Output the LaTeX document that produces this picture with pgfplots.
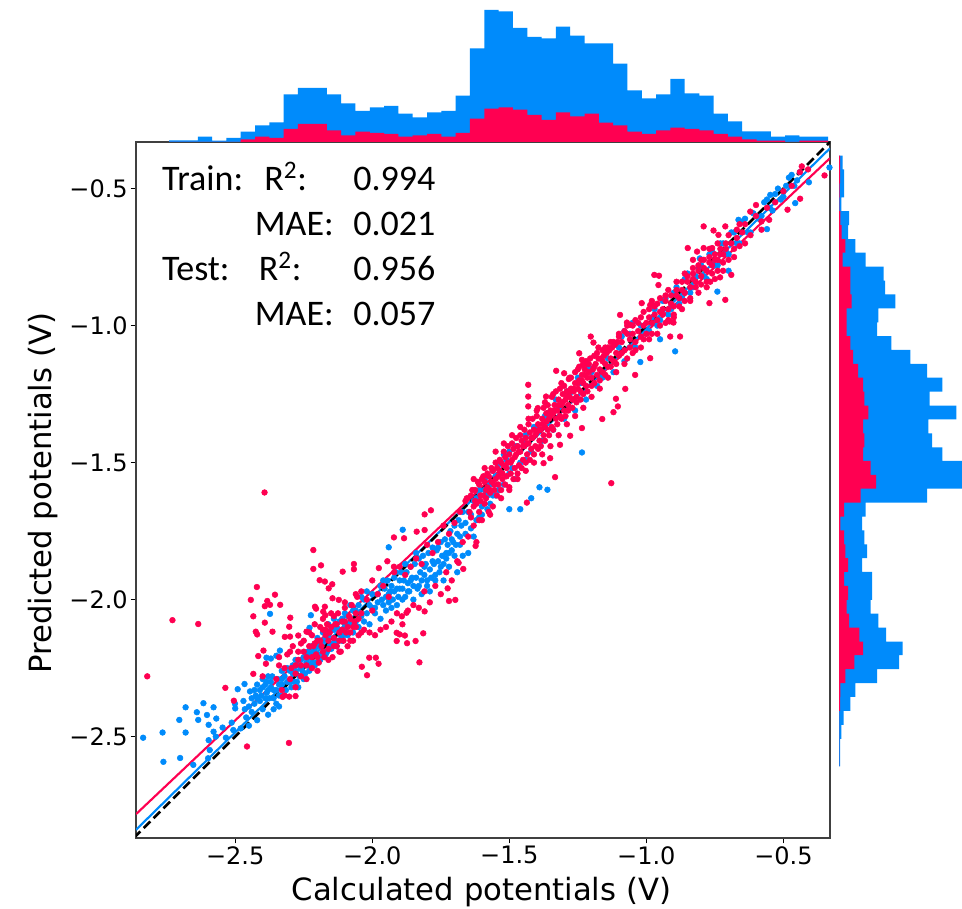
\documentclass[border=0pt]{standalone}
\usepackage{fontspec}
\setmainfont{Carlito}
\newfontfamily\dejavu{DejaVu Sans}
\usepackage{pgfplots}
\usepackage{pgfplotstable}
\pgfplotsset{compat=1.18}
\definecolor{shapblue}{HTML}{008BFB}
\definecolor{shappink}{HTML}{FF0051}
\pgfplotstableread{
e blue pink
-2.741 1.7 0
-2.689 1.7 0
-2.636 5.3 0
-2.584 1.3 0
-2.532 4 0
-2.480 10.3 2.7
-2.427 16.7 5.3
-2.375 19.7 4
-2.323 47.7 13
-2.271 54 18
-2.218 54 18
-2.166 47.7 11.7
-2.114 38.7 6.7
-2.062 31 10.3
-2.009 34.7 9
-1.957 36 8
-1.905 28.3 5.3
-1.853 24.7 6.7
-1.800 29.7 8
-1.748 31 5.3
-1.696 46.3 9
-1.644 93.7 23.3
-1.591 132 33.3
-1.539 130.7 34.7
-1.487 114 32.3
-1.434 105 27
-1.382 103.7 22
-1.330 115.3 29.7
-1.278 106.3 25.7
-1.225 98.7 28.3
-1.173 98.7 19.3
-1.121 78.3 16.7
-1.069 51.7 10.3
-1.016 43.7 8
-0.964 47.7 11.7
-0.912 63 14.3
-0.860 48.7 13
-0.807 46.3 11.7
-0.755 28.3 8
-0.703 20.7 5.3
-0.651 10.7 2.7
-0.598 10.7 1.3
-0.546 5.3 1.3
-0.494 6.7 0
-0.442 5.3 1.3
-0.389 5.3 1.3
-0.337 5.3 1.3
}\tophist
\pgfplotstableread{
e blue pink
-2.609 1 0
-2.558 1 0
-2.508 2.3 0
-2.457 4.7 0
-2.406 11.3 1
-2.355 16.3 1.3
-2.305 38 6.3
-2.254 60 15.3
-2.203 63.7 24
-2.153 47 20.3
-2.102 39.3 10
-2.051 31.7 7.7
-2.001 33 9
-1.950 33 5
-1.899 23 9
-1.849 28 6.3
-1.798 25.3 5
-1.747 23 1.3
-1.697 26.7 5
-1.646 88 21.7
-1.595 125 37
-1.545 125 31.7
-1.494 103.3 24
-1.444 93 25.3
-1.393 89.3 24
-1.342 117.3 29.3
-1.292 90.7 25.3
-1.241 103.3 24
-1.190 88 19
-1.140 71.3 14
-1.089 52.3 11.3
-1.038 38 7.7
-0.988 39.3 7.7
-0.937 56.3 12.7
-0.886 46 11.3
-0.836 44.7 11.3
-0.785 26.7 3.7
-0.734 16.3 6.3
-0.684 9 2.7
-0.633 10 1.3
-0.582 2.3 0.3
-0.532 5 0.5
-0.481 5 1
-0.430 3.7 1
-0.380 3.7 1
}\righthist
\pgfplotstableread{
x y
-2.836 -2.504
-2.765 -2.485
-2.681 -2.485
-2.762 -2.592
-2.701 -2.578
-2.704 -2.439
-2.681 -2.393
-2.640 -2.411
-2.635 -2.439
-2.616 -2.378
-2.603 -2.421
-2.579 -2.393
-2.569 -2.434
-2.597 -2.457
-2.579 -2.482
-2.546 -2.467
-2.597 -2.513
-2.571 -2.500
-2.653 -2.603
-2.599 -2.579
-2.593 -2.549
-2.534 -2.504
-2.507 -2.476
-2.513 -2.449
-2.500 -2.397
-2.491 -2.327
-2.501 -2.38
-2.466 -2.308
-2.446 -2.335
-2.47 -2.37
-2.465 -2.40
-2.45 -2.39
-2.44 -2.36
-2.43 -2.33
-2.42 -2.31
-2.425 -2.35
-2.41 -2.37
-2.40 -2.29
-2.39 -2.31
-2.385 -2.34
-2.38 -2.28
-2.37 -2.30
-2.36 -2.33
-2.35 -2.38
-2.34 -2.31
-2.33 -2.29
-2.40 -2.40
-2.38 -2.42
-2.36 -2.40
-2.34 -2.39
-2.42 -2.44
-2.45 -2.46
-2.48 -2.47
-2.373 -2.052
-2.386 -2.212
-2.37 -2.215
-2.35 -2.205
-2.337 -2.186
-2.224 -2.057
-2.229 -2.103
-1.889 -1.745
-1.940 -1.809
-2.33 -2.26
-2.31 -2.25
-2.30 -2.30
-2.29 -2.27
-2.28 -2.22
-2.27 -2.32
-2.26 -2.25
-2.25 -2.29
-2.24 -2.20
-2.23 -2.26
-2.22 -2.17
-2.21 -2.24
-2.20 -2.14
-2.19 -2.22
-2.18 -2.12
-2.17 -2.20
-2.16 -2.09
-2.15 -2.18
-2.14 -2.07
-2.13 -2.17
-2.12 -2.08
-2.11 -2.15
-2.10 -2.05
-2.09 -2.13
-2.08 -2.02
-2.07 -2.12
-2.06 -2.04
-2.05 -2.10
-2.04 -1.99
-2.03 -2.08
-2.02 -1.97
-2.01 -2.09
-2.00 -2.03
-1.99 -2.05
-1.98 -1.98
-1.97 -2.07
-1.96 -1.93
-1.95 -2.04
-1.94 -1.98
-1.93 -2.03
-1.92 -1.92
-1.91 -2.02
-1.90 -1.96
-1.89 -2.00
-1.88 -1.87
-1.87 -1.97
-1.86 -1.93
-1.85 -2.00
-1.84 -1.83
-1.83 -1.95
-1.82 -1.98
-1.81 -1.88
-1.80 -1.93
-1.79 -1.97
-1.78 -1.86
-1.77 -1.91
-1.76 -1.81
-1.75 -1.88
-1.74 -1.93
-1.73 -1.83
-1.72 -1.88
-1.71 -1.78
-1.70 -1.84
-1.69 -1.90
-1.68 -1.80
-1.67 -1.84
-1.66 -1.72
-1.65 -1.83
-1.64 -1.69
-1.63 -1.77
-1.62 -1.63
-1.61 -1.70
-1.60 -1.66
-1.59 -1.60
-1.58 -1.67
-1.57 -1.58
-1.56 -1.62
-1.55 -1.55
-1.54 -1.60
-1.53 -1.50
-1.52 -1.58
-1.51 -1.49
-1.50 -1.54
-1.49 -1.52
-1.48 -1.56
-1.47 -1.44
-1.46 -1.50
-1.45 -1.42
-1.44 -1.49
-1.42 -1.46
-1.40 -1.38
-1.38 -1.42
-1.36 -1.32
-1.34 -1.38
-1.32 -1.30
-1.30 -1.34
-1.28 -1.25
-1.26 -1.31
-1.24 -1.21
-1.22 -1.27
-1.20 -1.17
-1.18 -1.22
-1.16 -1.19
-1.14 -1.12
-1.12 -1.17
-1.10 -1.08
-1.08 -1.13
-1.06 -1.03
-1.04 -1.08
-1.02 -1.00
-1.022 -1.133
-1.00 -1.03
-0.98 -0.97
-0.96 -1.00
-0.94 -0.91
-0.92 -0.96
-0.90 -0.88
-0.88 -0.92
-0.86 -0.83
-0.84 -0.88
-0.82 -0.82
-0.80 -0.78
-0.78 -0.83
-0.76 -0.73
-0.74 -0.78
-0.72 -0.70
-0.70 -0.74
-0.68 -0.66
-0.66 -0.70
-0.64 -0.61
-0.62 -0.66
-0.60 -0.60
-0.58 -0.60
-0.56 -0.54
-0.54 -0.58
-0.52 -0.50
-0.50 -0.53
-0.48 -0.46
-0.46 -0.49
-0.44 -0.44
-1.235 -1.463
-1.361 -1.599
-0.895 -1.094
-0.741 -0.876
-0.560 -0.648
-0.407 -0.477
-0.457 -0.553
-0.332 -0.423
-0.664 -0.614
-0.548 -0.523
-0.805 -0.755
-1.08 -1.02
-1.42 -1.63
-1.46 -1.67
-1.50 -1.67
-1.39 -1.59
-0.95 -1.05
-0.70 -0.80
}\trainpts
\pgfplotstableread{
x y
-2.393 -1.609
-2.729 -2.075
-2.635 -2.089
-2.863 -2.252
-2.821 -2.280
-2.215 -1.819
-2.215 -1.888
-2.187 -1.875
-2.067 -1.870
-2.067 -1.889
-2.108 -1.898
-2.192 -1.929
-2.173 -1.934
-2.146 -1.944
-2.159 -1.959
-2.421 -1.954
-2.355 -1.982
-2.443 -2.001
-2.383 -2.005
-2.373 -2.019
-2.392 -2.024
-2.336 -2.019
-2.434 -2.061
-2.299 -2.066
-2.392 -2.084
-2.303 -2.099
-2.425 -2.117
-2.420 -2.127
-2.364 -2.117
-2.319 -2.136
-2.30 -2.135
-2.397 -2.186
-2.416 -2.206
-2.388 -2.234
-2.434 -2.271
-2.40 -2.28
-2.536 -2.322
-2.505 -2.369
-2.304 -2.523
-2.457 -2.536
-2.327 -2.355
-2.303 -2.354
-2.280 -2.352
-2.145 -1.995
-2.122 -2.001
-2.209 -2.026
-2.205 -2.033
-2.173 -2.026
-2.179 -2.044
-2.171 -2.057
-2.270 -2.131
-2.24 -2.117
-1.828 -2.229
-2.019 -2.276
-2.038 -2.245
-2.011 -2.212
-1.987 -2.212
-1.977 -2.234
-1.814 -2.123
-1.842 -2.151
-1.873 -2.159
-1.881 -2.131
-1.911 -2.151
-1.911 -2.121
-1.90 -2.127
-1.809 -2.043
-1.892 -2.061
-1.875 -2.048
-1.720 -2.005
-1.697 -2.001
-1.623 -1.804
-1.668 -1.888
-1.685 -1.866
-1.725 -1.959
-1.786 -1.674
-1.809 -1.689
-1.809 -1.746
-1.838 -1.752
-1.921 -1.773
-1.884 -1.776
-1.945 -1.860
-1.976 -1.885
-1.921 -1.880
-2.04 -1.97
-2.00 -1.93
-1.128 -1.575
-1.333 -1.553
-1.436 -1.646
-1.431 -1.216
-1.431 -1.259
-1.431 -1.295
-1.396 -1.301
-1.366 -1.259
-1.329 -1.165
-1.300 -1.174
-1.283 -1.195
-1.245 -1.101
-1.235 -1.125
-1.232 -1.143
-1.203 -1.040
-1.193 -1.062
-1.175 -1.08
-1.15 -1.08
-1.096 -0.961
-1.071 -0.989
-1.059 -0.997
-1.017 -0.918
-0.980 -0.910
-0.986 -0.925
-0.971 -0.815
-0.954 -0.818
-0.956 -0.852
-0.849 -0.717
-0.830 -0.760
-0.791 -0.638
-0.755 -0.653
-0.737 -0.669
-0.712 -0.638
-0.791 -0.717
-0.815 -0.730
-0.760 -0.717
-0.621 -0.584
-0.433 -0.419
-0.350 -0.452
-0.439 -0.537
-0.485 -0.577
-0.552 -0.614
-0.690 -0.815
-0.712 -0.906
-0.770 -0.918
-0.731 -0.824
-0.767 -0.840
-0.877 -1.040
-0.913 -1.040
-0.915 -0.985
-0.901 -0.989
-0.986 -1.119
-1.041 -1.180
-1.077 -1.231
-1.111 -1.267
-1.104 -1.295
-1.120 -1.316
-1.161 -1.341
-1.235 -1.374
-1.278 -1.402
-1.315 -1.435
-1.351 -1.484
-1.375 -1.502
-2.30 -2.29
-2.29 -2.17
-2.28 -2.24
-2.27 -2.19
-2.26 -2.28
-2.25 -2.15
-2.24 -2.21
-2.23 -2.12
-2.22 -2.25
-2.215 -2.17
-2.21 -2.09
-2.205 -2.20
-2.20 -2.15
-2.195 -2.23
-2.19 -2.10
-2.185 -2.17
-2.18 -2.07
-2.175 -2.21
-2.17 -2.13
-2.165 -2.09
-2.16 -2.18
-2.155 -2.12
-2.15 -2.05
-2.145 -2.21
-2.14 -2.14
-2.135 -2.09
-2.13 -2.17
-2.125 -2.05
-2.12 -2.12
-2.115 -2.19
-2.11 -2.08
-2.105 -2.15
-2.10 -2.03
-2.095 -2.12
-2.09 -2.17
-2.085 -2.06
-2.08 -2.12
-2.075 -2.02
-2.07 -2.15
-2.065 -2.08
-2.06 -2.10
-2.055 -1.99
-2.05 -2.13
-2.04 -2.05
-2.03 -2.11
-2.02 -2.00
-2.01 -2.12
-2.00 -2.04
-1.99 -2.13
-1.98 -1.98
-1.97 -2.11
-1.96 -1.95
-1.95 -2.10
-1.94 -1.99
-1.93 -2.08
-1.92 -1.90
-1.91 -2.05
-1.90 -1.88
-1.89 -2.09
-1.88 -1.91
-1.87 -2.04
-1.86 -1.88
-1.85 -2.02
-1.84 -1.85
-1.83 -2.03
-1.82 -1.87
-1.81 -1.97
-1.80 -1.80
-1.79 -2.01
-1.78 -1.83
-1.77 -1.95
-1.76 -1.79
-1.75 -1.98
-1.74 -1.73
-1.73 -1.90
-1.72 -1.76
-1.71 -1.93
-1.70 -1.72
-1.69 -1.86
-1.68 -1.68
-1.67 -1.79
-1.66 -1.64
-1.65 -1.77
-1.64 -1.70
-1.635 -1.60
-1.63 -1.73
-1.625 -1.64
-1.62 -1.79
-1.615 -1.57
-1.61 -1.68
-1.605 -1.62
-1.60 -1.71
-1.595 -1.55
-1.59 -1.65
-1.585 -1.60
-1.58 -1.54
-1.575 -1.68
-1.57 -1.61
-1.565 -1.52
-1.56 -1.66
-1.555 -1.58
-1.55 -1.50
-1.545 -1.62
-1.54 -1.55
-1.535 -1.49
-1.53 -1.60
-1.525 -1.54
-1.52 -1.46
-1.515 -1.58
-1.51 -1.52
-1.505 -1.44
-1.50 -1.59
-1.495 -1.50
-1.49 -1.43
-1.485 -1.56
-1.48 -1.48
-1.475 -1.41
-1.47 -1.54
-1.465 -1.46
-1.46 -1.40
-1.455 -1.52
-1.45 -1.44
-1.445 -1.38
-1.44 -1.50
-1.435 -1.43
-1.43 -1.36
-1.425 -1.49
-1.42 -1.41
-1.415 -1.34
-1.41 -1.47
-1.405 -1.40
-1.40 -1.33
-1.395 -1.45
-1.39 -1.38
-1.385 -1.44
-1.38 -1.36
-1.375 -1.30
-1.37 -1.42
-1.365 -1.35
-1.36 -1.29
-1.355 -1.40
-1.35 -1.33
-1.345 -1.26
-1.34 -1.38
-1.335 -1.31
-1.33 -1.24
-1.325 -1.36
-1.32 -1.29
-1.315 -1.23
-1.31 -1.34
-1.305 -1.28
-1.30 -1.22
-1.295 -1.33
-1.29 -1.26
-1.285 -1.31
-1.28 -1.24
-1.275 -1.19
-1.27 -1.30
-1.265 -1.23
-1.26 -1.17
-1.255 -1.28
-1.25 -1.21
-1.245 -1.15
-1.24 -1.27
-1.235 -1.20
-1.23 -1.25
-1.225 -1.18
-1.22 -1.13
-1.215 -1.24
-1.21 -1.17
-1.205 -1.12
-1.20 -1.22
-1.19 -1.15
-1.18 -1.10
-1.17 -1.20
-1.16 -1.13
-1.15 -1.18
-1.14 -1.08
-1.13 -1.15
-1.12 -1.06
-1.11 -1.14
-1.10 -1.04
-1.09 -1.10
-1.08 -1.02
-1.07 -1.12
-1.06 -1.05
-1.05 -1.00
-1.04 -1.09
-1.03 -1.02
-1.02 -0.97
-1.01 -1.05
-1.00 -0.99
-0.99 -0.94
-0.98 -1.03
-0.97 -0.96
-0.96 -0.92
-0.95 -1.00
-0.94 -0.94
-0.93 -0.89
-0.92 -0.98
-0.91 -0.92
-0.90 -0.96
-0.89 -0.87
-0.88 -0.93
-0.87 -0.84
-0.86 -0.91
-0.85 -0.82
-0.84 -0.90
-0.83 -0.81
-0.82 -0.86
-0.81 -0.78
-0.80 -0.85
-0.79 -0.76
-0.78 -0.84
-0.77 -0.77
-0.76 -0.81
-0.75 -0.74
-0.74 -0.80
-0.73 -0.72
-0.72 -0.77
-0.71 -0.70
-0.70 -0.76
-0.68 -0.72
-0.67 -0.65
-0.66 -0.71
-0.64 -0.63
-0.62 -0.67
-0.60 -0.60
-0.58 -0.62
-0.56 -0.57
-0.53 -0.55
-0.50 -0.51
-0.47 -0.49
-0.44 -0.44
-0.41 -0.43
}\testpts
\begin{document}
\begin{tikzpicture}[x=1pt,y=1pt]
\path[use as bounding box] (0,0) rectangle (721.5,681);
\begin{axis}[
  at={(102pt,52.5pt)},anchor=south west,
  scale only axis,width=520.5pt,height=522pt,
  xmin=-2.862,xmax=-0.33,ymin=-2.87,ymax=-0.33,
  xtick={-2.5,-2,-1.5,-1,-0.5},
  ytick={-2.5,-2,-1.5,-1,-0.5},
  xticklabels={−2.5,−2.0,−1.5,−1.0,−0.5},
  yticklabels={−2.5,−2.0,−1.5,−1.0,−0.5},
  tick align=outside,
  xtick pos=bottom,ytick pos=left,
  major tick length=4pt,
  tick style={black,line width=0.6pt},
  tick label style={font=\fontsize{18}{20}\selectfont\dejavu},
  every tick label/.append style={inner sep=2pt},
  axis line style={black!75,line width=0.9pt},
]
\addplot[only marks,shapblue,mark=*,mark size=2.15pt] table[x=x,y=y] {\trainpts};
% more training points in the dense band
\addplot[only marks,shapblue,mark=*,mark size=2.15pt] coordinates {
(-2.46,-2.43)(-2.44,-2.41)(-2.43,-2.38)(-2.42,-2.36)(-2.41,-2.33)(-2.405,-2.35)(-2.40,-2.32)(-2.39,-2.36)(-2.385,-2.30)(-2.38,-2.33)(-2.375,-2.36)(-2.37,-2.32)(-2.365,-2.28)(-2.36,-2.36)(-2.35,-2.33)(-2.345,-2.29)(-2.34,-2.35)(-2.33,-2.31)(-2.325,-2.35)(-2.32,-2.28)(-2.315,-2.33)(-2.31,-2.30)
(-2.30,-2.26)(-2.295,-2.32)(-2.29,-2.24)(-2.285,-2.30)(-2.28,-2.26)(-2.275,-2.30)(-2.27,-2.24)(-2.265,-2.28)(-2.26,-2.22)(-2.255,-2.26)(-2.25,-2.21)(-2.245,-2.27)(-2.24,-2.23)(-2.235,-2.19)(-2.23,-2.24)(-2.225,-2.20)(-2.22,-2.23)(-2.215,-2.19)(-2.21,-2.18)(-2.205,-2.23)(-2.20,-2.17)(-2.195,-2.20)(-2.19,-2.16)(-2.185,-2.21)(-2.18,-2.15)(-2.175,-2.19)(-2.17,-2.14)(-2.165,-2.19)(-2.16,-2.13)(-2.155,-2.17)(-2.15,-2.11)(-2.145,-2.16)(-2.14,-2.11)(-2.135,-2.15)(-2.13,-2.10)(-2.125,-2.15)(-2.12,-2.11)(-2.115,-2.13)(-2.11,-2.07)(-2.105,-2.13)(-2.10,-2.09)(-2.095,-2.10)
(-2.09,-2.06)(-2.08,-2.09)(-2.07,-2.04)(-2.06,-2.08)(-2.05,-2.02)(-2.04,-2.06)(-2.03,-2.00)(-2.02,-2.05)(-2.01,-2.02)(-2.00,-1.98)(-1.99,-2.03)(-1.98,-2.01)(-1.97,-1.95)(-1.965,-2.00)(-1.96,-2.02)(-1.955,-1.96)(-1.95,-1.99)(-1.945,-1.93)(-1.94,-2.01)(-1.935,-1.97)(-1.93,-1.95)(-1.925,-2.00)(-1.92,-1.97)(-1.915,-1.90)(-1.91,-1.96)(-1.905,-1.99)(-1.90,-1.93)(-1.895,-1.90)(-1.89,-1.96)(-1.885,-1.93)(-1.88,-1.99)(-1.875,-1.90)(-1.87,-1.94)(-1.865,-1.97)(-1.86,-1.88)(-1.855,-1.92)(-1.85,-1.95)(-1.845,-1.87)(-1.84,-1.92)(-1.835,-1.96)(-1.83,-1.85)(-1.825,-1.90)(-1.82,-1.93)(-1.815,-1.84)(-1.81,-1.91)(-1.805,-1.87)(-1.80,-1.95)(-1.795,-1.83)(-1.79,-1.89)(-1.785,-1.92)(-1.78,-1.81)(-1.775,-1.87)(-1.77,-1.93)(-1.765,-1.82)(-1.76,-1.86)(-1.755,-1.90)(-1.75,-1.79)(-1.745,-1.84)(-1.74,-1.87)(-1.735,-1.78)(-1.73,-1.85)(-1.725,-1.80)(-1.72,-1.83)(-1.715,-1.75)(-1.71,-1.82)(-1.705,-1.79)(-1.70,-1.73)(-1.695,-1.80)(-1.69,-1.76)(-1.685,-1.71)(-1.68,-1.77)(-1.675,-1.73)(-1.67,-1.68)(-1.66,-1.76)(-1.65,-1.68)(-1.64,-1.74)(-1.63,-1.64)(-1.62,-1.71)(-1.61,-1.60)
(-1.60,-1.69)(-1.59,-1.56)(-1.58,-1.62)(-1.57,-1.65)(-1.56,-1.53)(-1.55,-1.62)(-1.54,-1.51)(-1.52,-1.47)(-1.50,-1.46)(-1.48,-1.44)(-1.44,-1.40)(-1.41,-1.37)(-1.37,-1.33)(-1.33,-1.27)(-1.29,-1.24)(-1.25,-1.19)(-1.21,-1.15)(-1.15,-1.09)(-1.09,-1.04)(-1.05,-0.99)
(-0.99,-1.02)(-0.97,-0.94)(-0.95,-0.98)(-0.93,-0.90)(-0.91,-0.94)(-0.89,-0.86)(-0.87,-0.90)(-0.85,-0.81)(-0.83,-0.86)(-0.81,-0.79)(-0.79,-0.82)(-0.77,-0.74)(-0.75,-0.78)(-0.73,-0.70)(-0.71,-0.73)(-0.69,-0.66)(-0.67,-0.70)(-0.65,-0.62)(-0.63,-0.66)(-0.61,-0.59)(-0.59,-0.61)(-0.57,-0.55)(-0.55,-0.57)(-0.53,-0.52)(-0.51,-0.54)(-0.49,-0.49)(-0.47,-0.45)(-0.45,-0.47)
};
\addplot[only marks,shappink,mark=*,mark size=2.15pt] table[x=x,y=y] {\testpts};
% more test points in the dense band
\addplot[only marks,shappink,mark=*,mark size=2.15pt] coordinates {
(-2.35,-2.29)(-2.34,-2.24)(-2.33,-2.33)(-2.32,-2.25)(-2.31,-2.20)(-2.295,-2.25)(-2.28,-2.27)(-2.27,-2.22)(-2.26,-2.24)(-2.25,-2.19)(-2.24,-2.24)(-2.23,-2.17)(-2.22,-2.21)(-2.21,-2.16)(-2.20,-2.21)(-2.19,-2.15)(-2.18,-2.19)(-2.17,-2.11)(-2.16,-2.15)(-2.15,-2.10)(-2.14,-2.17)(-2.13,-2.09)(-2.12,-2.15)(-2.11,-2.11)(-2.10,-2.08)(-2.09,-2.10)(-2.08,-2.07)(-2.07,-2.10)(-2.06,-2.05)(-2.05,-2.07)
(-1.655,-1.63)(-1.645,-1.68)(-1.64,-1.62)(-1.63,-1.66)(-1.625,-1.60)(-1.62,-1.65)(-1.61,-1.58)(-1.605,-1.64)(-1.60,-1.56)(-1.595,-1.62)(-1.59,-1.57)(-1.585,-1.63)(-1.58,-1.59)(-1.575,-1.55)(-1.57,-1.60)(-1.565,-1.57)(-1.56,-1.53)(-1.555,-1.60)(-1.55,-1.56)(-1.545,-1.52)(-1.54,-1.58)(-1.535,-1.53)(-1.53,-1.50)(-1.525,-1.56)(-1.52,-1.51)(-1.515,-1.48)(-1.51,-1.55)(-1.505,-1.50)(-1.50,-1.47)(-1.495,-1.54)(-1.49,-1.49)(-1.485,-1.45)(-1.48,-1.52)(-1.475,-1.47)(-1.47,-1.44)(-1.465,-1.51)(-1.46,-1.46)(-1.455,-1.42)(-1.45,-1.49)(-1.445,-1.44)(-1.44,-1.41)(-1.435,-1.47)(-1.43,-1.43)(-1.425,-1.39)(-1.42,-1.45)(-1.415,-1.41)(-1.41,-1.38)(-1.405,-1.44)(-1.40,-1.39)(-1.395,-1.36)(-1.39,-1.42)(-1.385,-1.38)(-1.38,-1.34)(-1.375,-1.40)(-1.37,-1.37)(-1.365,-1.32)(-1.36,-1.38)(-1.355,-1.34)(-1.35,-1.31)(-1.345,-1.37)(-1.34,-1.32)(-1.335,-1.29)(-1.33,-1.34)(-1.325,-1.31)(-1.32,-1.27)(-1.315,-1.33)(-1.31,-1.29)(-1.305,-1.25)(-1.30,-1.31)(-1.295,-1.27)(-1.29,-1.24)(-1.285,-1.29)(-1.28,-1.26)(-1.275,-1.23)(-1.27,-1.27)(-1.265,-1.24)(-1.26,-1.21)(-1.255,-1.26)(-1.25,-1.23)(-1.245,-1.20)(-1.24,-1.24)(-1.235,-1.18)(-1.23,-1.21)(-1.225,-1.16)(-1.22,-1.22)(-1.215,-1.19)(-1.21,-1.14)(-1.20,-1.19)(-1.195,-1.16)(-1.19,-1.21)(-1.185,-1.14)(-1.18,-1.18)(-1.175,-1.12)(-1.17,-1.16)(-1.165,-1.12)(-1.16,-1.17)(-1.155,-1.11)(-1.15,-1.14)(-1.145,-1.10)(-1.14,-1.15)(-1.135,-1.09)(-1.13,-1.12)(-1.125,-1.08)(-1.12,-1.13)(-1.115,-1.07)(-1.11,-1.10)(-1.105,-1.06)(-1.10,-1.11)(-1.09,-1.06)(-1.08,-1.09)(-1.07,-1.03)(-1.06,-1.08)(-1.05,-1.03)(-1.04,-1.06)(-1.03,-0.99)(-1.02,-1.04)(-1.01,-1.00)(-1.00,-1.03)
(-0.99,-0.97)(-0.98,-0.99)(-0.97,-0.93)(-0.96,-0.98)(-0.95,-0.95)(-0.94,-0.96)(-0.93,-0.91)(-0.92,-0.94)(-0.91,-0.89)(-0.90,-0.93)(-0.89,-0.89)(-0.88,-0.90)(-0.87,-0.87)(-0.86,-0.88)(-0.85,-0.84)(-0.84,-0.86)(-0.83,-0.83)(-0.82,-0.84)(-0.81,-0.80)(-0.80,-0.82)(-0.79,-0.79)(-0.78,-0.80)(-0.77,-0.75)(-0.76,-0.78)(-0.75,-0.76)(-0.74,-0.76)(-0.73,-0.74)(-0.72,-0.74)(-0.71,-0.72)(-0.69,-0.70)(-0.67,-0.68)(-0.65,-0.66)
(-1.63,-1.56)(-1.61,-1.71)(-1.59,-1.52)(-1.57,-1.69)(-1.55,-1.46)(-1.53,-1.63)(-1.52,-1.43)(-1.50,-1.60)(-1.49,-1.40)(-1.47,-1.56)(-1.46,-1.37)(-1.44,-1.53)(-1.43,-1.34)(-1.41,-1.50)(-1.40,-1.31)(-1.38,-1.47)(-1.37,-1.28)(-1.35,-1.44)(-1.34,-1.25)(-1.32,-1.40)(-1.31,-1.21)(-1.29,-1.36)(-1.28,-1.19)(-1.26,-1.33)(-1.25,-1.16)(-1.23,-1.30)(-1.22,-1.14)(-1.20,-1.26)(-1.19,-1.11)(-1.17,-1.23)(-1.16,-1.09)(-1.14,-1.19)(-1.13,-1.06)(-1.11,-1.17)(-1.10,-1.03)(-1.08,-1.14)(-1.07,-1.00)(-1.05,-1.10)(-1.04,-0.98)(-1.02,-1.08)(-1.01,-0.95)(-0.99,-1.05)(-0.98,-0.92)(-0.96,-1.03)(-0.95,-0.90)(-0.93,-0.99)(-0.92,-0.87)(-0.90,-0.97)(-0.89,-0.84)(-0.87,-0.94)(-0.86,-0.81)(-0.84,-0.91)(-0.83,-0.79)(-0.81,-0.88)(-0.80,-0.76)(-0.78,-0.86)(-0.77,-0.72)(-0.75,-0.83)(-0.74,-0.70)(-0.72,-0.80)(-0.70,-0.67)(-0.68,-0.75)(-0.66,-0.63)(-0.64,-0.70)(-0.60,-0.56)(-0.58,-0.65)
(-2.34,-2.21)(-2.32,-2.35)(-2.30,-2.19)(-2.28,-2.32)(-2.26,-2.16)(-2.24,-2.29)(-2.22,-2.13)(-2.20,-2.26)(-2.18,-2.11)(-2.16,-2.22)(-2.14,-2.06)(-2.12,-2.19)(-2.10,-2.01)(-2.08,-2.15)(-2.06,-1.98)(-2.04,-2.12)
};
\addplot[shappink,line width=1.6pt] coordinates {(-2.862,-2.783) (-0.33,-0.389)};
\addplot[shapblue,line width=1.6pt] coordinates {(-2.862,-2.84) (-0.33,-0.353)};
\addplot[black,line width=2pt,dash pattern=on 7pt off 3.5pt] coordinates {(-2.87,-2.87) (-0.33,-0.33)};
\end{axis}
\begin{axis}[
  at={(102pt,574.5pt)},anchor=south west,
  scale only axis,width=520.5pt,height=106.5pt,
  xmin=-2.862,xmax=-0.33,ymin=0,ymax=142,
  hide axis,
]
\addplot[ybar interval,fill=shapblue,draw=none] table[x=e,y=blue] {\tophist};
\addplot[ybar interval,fill=shappink,draw=none] table[x=e,y=pink] {\tophist};
\end{axis}
\begin{axis}[
  at={(622.5pt,52.5pt)},anchor=south west,
  scale only axis,width=99pt,height=522pt,
  ymin=-2.87,ymax=-0.33,xmin=-9,xmax=123,
  hide axis,
]
\addplot[xbar interval,fill=shapblue,draw=none] table[x=blue,y=e] {\righthist};
\addplot[xbar interval,fill=shappink,draw=none] table[x=pink,y=e] {\righthist};
\end{axis}
\node[font=\fontsize{23}{24}\selectfont\dejavu,anchor=base] at (361,6) {Calculated potentials (V)};
\node[font=\fontsize{23}{24}\selectfont\dejavu,anchor=base,rotate=90] at (38.8,311) {Predicted potentials (V)};
\begin{scope}[every node/.style={font=\fontsize{27}{29}\selectfont,anchor=base west,inner sep=0pt}]
\node at (121.3,538) {Train:};
\node at (198,538) {R\textsuperscript{2}:};
\node at (264.8,538) {0.994};
\node at (191,504) {MAE:};
\node at (264.8,504) {0.021};
\node at (121.3,470.5) {Test:};
\node at (194,470.5) {R\textsuperscript{2}:};
\node at (264.8,470.5) {0.956};
\node at (191,437) {MAE:};
\node at (264.8,437) {0.057};
\end{scope}
\end{tikzpicture}
\end{document}
